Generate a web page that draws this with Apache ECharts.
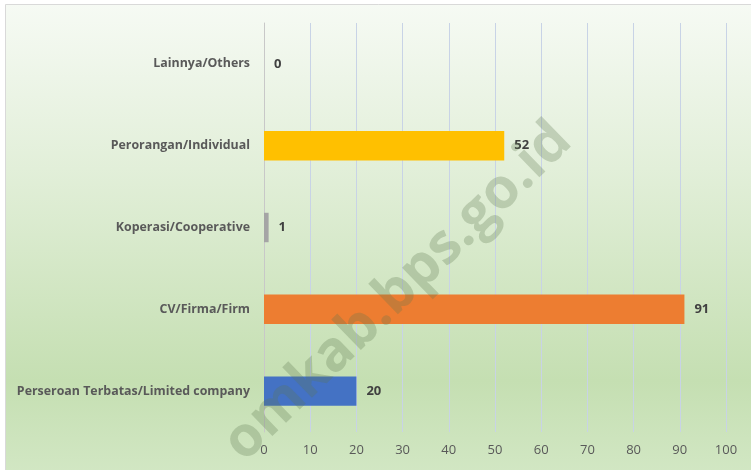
<!DOCTYPE html>
<html>
<head>
<meta charset="utf-8">
<script src="https://cdn.jsdelivr.net/npm/echarts@6/dist/echarts.min.js"></script>
<style>
html,body{margin:0;padding:0;background:#fff;}
#c{width:751px;height:470px;}
</style>
</head>
<body>
<div id="c"></div>
<script>
const categories = ['Perseroan Terbatas/Limited company', 'CV/Firma/Firm', 'Koperasi/Cooperative', 'Perorangan/Individual', 'Lainnya/Others'];
const values = [20, 91, 1, 52, 0];
const barColors = ['#4472C4', '#ED7D31', '#A5A5A5', '#FFC000', '#5B9BD5'];
const xTicks = [0, 10, 20, 30, 40, 50, 60, 70, 80, 90, 100];
const watermark = 'omkab.bps.go.id';

const chart = echarts.init(document.getElementById('c'), null, {renderer: 'canvas'});
chart.setOption({
  animation: false,
  backgroundColor: 'transparent',
  graphic: [
    {
      type: 'rect', z: -10, silent: true,
      shape: {x: 5.5, y: 4.5, width: 750, height: 470},
      style: {
        fill: new echarts.graphic.LinearGradient(0, 0, 0, 1, [
          {offset: 0, color: '#f6faf4'},
          {offset: 0.35, color: '#e2efd9'},
          {offset: 0.8, color: '#c5dfb2'},
          {offset: 1, color: '#d2e7c4'}
        ]),
        stroke: '#d9d9d9', lineWidth: 1
      }
    },
    {
      type: 'text', z: 100, silent: true,
      x: 398, y: 292, rotation: Math.PI / 4 * 0.98,
      style: {
        text: watermark,
        font: 'bold 56px "Open Sans"',
        fill: 'rgba(95,120,80,0.28)',
        align: 'center', verticalAlign: 'middle'
      }
    }
  ],
  grid: {left: 264, right: 25, top: 23, bottom: 38, containLabel: false},
  xAxis: {
    type: 'value', min: 0, max: 100, interval: 10,
    axisLine: {show: false}, axisTick: {show: false},
    axisLabel: {color: '#595959', fontSize: 13, fontFamily: 'Open Sans', margin: 12,
      formatter: v => xTicks.includes(v) ? String(v) : ''},
    splitLine: {lineStyle: {color: '#c8d3e6', width: 1}}
  },
  yAxis: {
    type: 'category', data: categories,
    axisLine: {show: true, lineStyle: {color: '#c8c8c8'}},
    axisTick: {show: false},
    axisLabel: {color: '#595959', fontSize: 12.4, fontWeight: 'bold', fontFamily: 'Open Sans', margin: 14}
  },
  series: [{
    type: 'bar',
    data: values.map((v, i) => ({value: v, itemStyle: {color: barColors[i]}})),
    barCategoryGap: '64%',
    label: {show: true, position: 'right', distance: 10, color: '#404040', fontSize: 13, fontWeight: 'bold', fontFamily: 'Open Sans'}
  }]
});
</script>
</body>
</html>
